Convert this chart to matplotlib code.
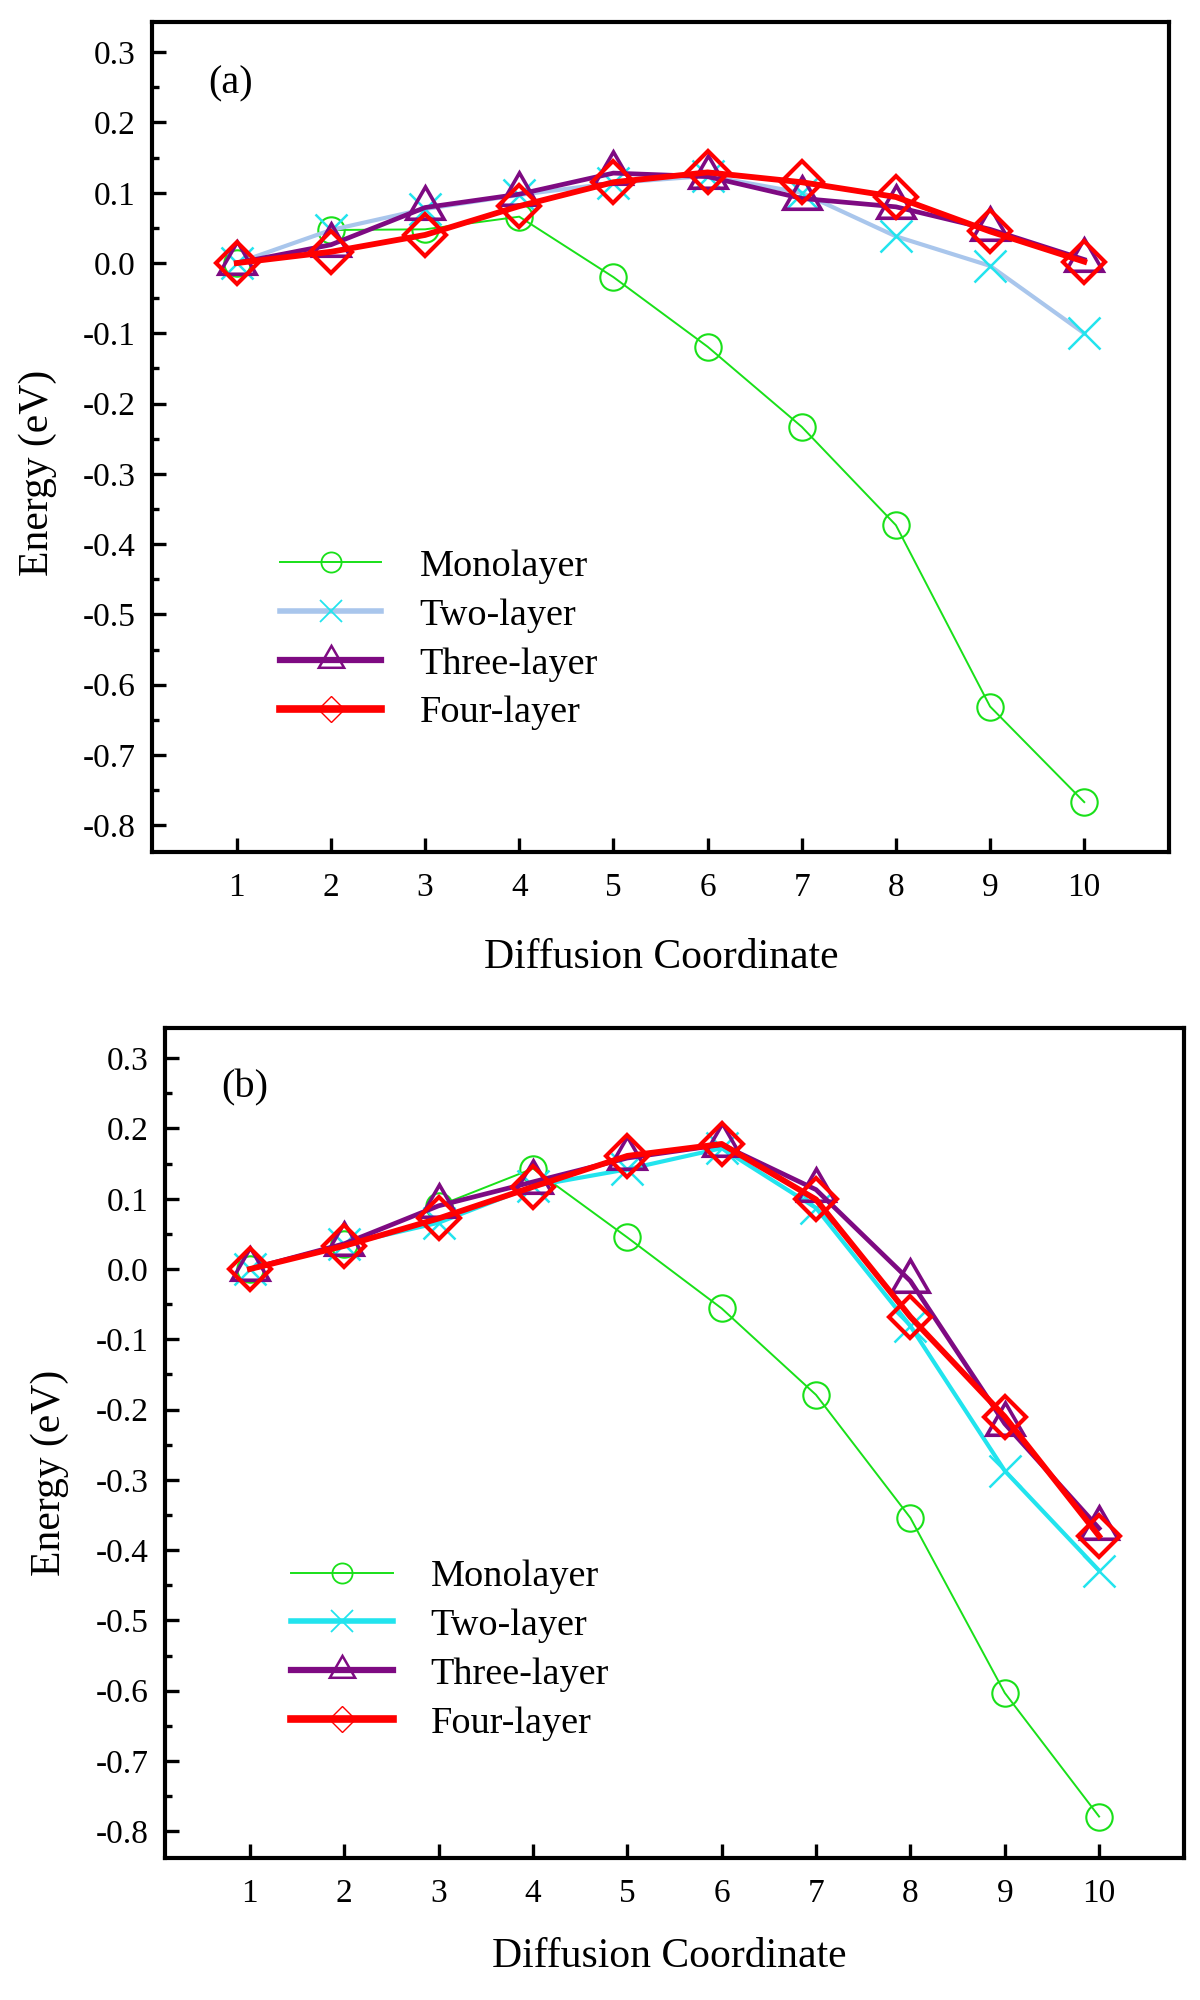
import matplotlib
matplotlib.use("Agg")
import matplotlib.pyplot as plt
from matplotlib.lines import Line2D
from matplotlib.ticker import MultipleLocator, FixedLocator, FuncFormatter

plt.rcParams['font.family'] = ['Liberation Serif', 'DejaVu Serif']
plt.rcParams['axes.unicode_minus'] = False

# ---------------- data ----------------
coords = [1, 2, 3, 4, 5, 6, 7, 8, 9, 10]
series_names = ["Monolayer", "Two-layer", "Three-layer", "Four-layer"]

mono_a = [0.0, 0.047, 0.048, 0.066, -0.020, -0.119, -0.233, -0.373, -0.631, -0.767]
two_a = [0.0, 0.047, 0.077, 0.097, 0.114, 0.124, 0.100, 0.038, -0.004, -0.100]
three_a = [0.0, 0.026, 0.079, 0.098, 0.128, 0.123, 0.092, 0.080, 0.048, 0.005]
four_a = [0.0, 0.016, 0.040, 0.081, 0.115, 0.129, 0.115, 0.094, 0.045, 0.002]

mono_b = [0.0, 0.036, 0.090, 0.143, 0.045, -0.056, -0.179, -0.354, -0.603, -0.779]
two_b = [0.0, 0.035, 0.066, 0.118, 0.142, 0.172, 0.087, -0.081, -0.287, -0.429]
three_b = [0.0, 0.036, 0.090, 0.124, 0.158, 0.177, 0.113, -0.017, -0.220, -0.369]
four_b = [0.0, 0.033, 0.072, 0.117, 0.161, 0.178, 0.099, -0.068, -0.210, -0.380]

y_major = [-0.8, -0.7, -0.6, -0.5, -0.4, -0.3, -0.2, -0.1, 0.0, 0.1, 0.2, 0.3]

# ---------------- styles ----------------
GREEN = '#19E019'
LBLUE = '#A9C6EC'
CYAN = '#22E4EE'
PURPLE = '#7E0A82'
RED = '#FF0000'

fig = plt.figure(figsize=(12, 20), dpi=100)
ax_a = fig.add_axes([152/1200, 1-852/2000, (1169-152)/1200, (852-22)/2000])
ax_b = fig.add_axes([165/1200, 1-1858/2000, (1184-165)/1200, (1858-1028)/2000])


def style(line_col2):
    return [
        dict(color=GREEN, lw=1.4, marker='o', ms=19, mew=1.5, mec=GREEN, mfc='none'),
        dict(color=line_col2, lw=3.0, marker='x', ms=23, mew=1.8, mec=CYAN, mfc='none'),
        dict(color=PURPLE, lw=3.4, marker=(3, 0, 0), ms=31, mew=2.6, mec=PURPLE, mfc='none'),
        dict(color=RED, lw=4.2, marker='D', ms=21, mew=3.0, mec=RED, mfc='none'),
    ]


def legend_handles(line_col2):
    return [
        Line2D([], [], color=GREEN, lw=1.4, marker='o', ms=14.5, mew=1.3, mec=GREEN, mfc='none'),
        Line2D([], [], color=line_col2, lw=4.0, marker='x', ms=16, mew=1.3, mec=CYAN, mfc='none'),
        Line2D([], [], color=PURPLE, lw=4.5, marker=(3, 0, 0), ms=21, mew=1.8, mec=PURPLE, mfc='none'),
        Line2D([], [], color=RED, lw=5.5, marker='D', ms=13, mew=1.0, mec=RED, mfc='none'),
    ]


def setup(ax, data, line_col2, tag, tagpos, ylab_pos, xlab_pos, leg_anchor):
    for vals, st in zip(data, style(line_col2)):
        ax.plot(coords, vals, **st)
    ax.set_xlim(0.1, 10.9)
    ax.set_ylim(-0.838, 0.343)
    ax.xaxis.set_major_locator(FixedLocator(coords))
    ax.yaxis.set_major_locator(FixedLocator(y_major))
    ax.yaxis.set_minor_locator(MultipleLocator(0.05))
    ax.yaxis.set_major_formatter(FuncFormatter(lambda v, p: ('%.1f' % v).replace('\u2212', '-')))
    ax.tick_params(axis='both', which='major', direction='in', length=10, width=2.4,
                   labelsize=24, top=False, right=False)
    ax.tick_params(axis='y', which='minor', direction='in', length=5, width=2.4, right=False)
    ax.tick_params(axis='x', which='major', pad=15)
    ax.tick_params(axis='y', which='major', pad=12)
    for sp in ax.spines.values():
        sp.set_linewidth(3.0)
    ax.set_ylabel('Energy (eV)', fontsize=30)
    ax.yaxis.label.set_va('center')
    ax.yaxis.set_label_coords(*ylab_pos)
    ax.set_xlabel('Diffusion Coordinate', fontsize=30)
    ax.xaxis.label.set_va('center')
    ax.xaxis.set_label_coords(*xlab_pos)
    ax.text(tagpos[0], tagpos[1], tag, transform=ax.transAxes, fontsize=29,
            ha='center', va='center')
    ax.legend(legend_handles(line_col2), series_names, loc='upper left',
              bbox_to_anchor=leg_anchor, frameon=False, fontsize=27.5,
              handlelength=2.65, handletextpad=1.0, labelspacing=0.37,
              borderpad=0, borderaxespad=0)


setup(ax_a, [mono_a, two_a, three_a, four_a], LBLUE, '(a)', (0.077, 0.925),
      (-0.112, 0.457), (0.5005, -0.128), (0.126, 0.365))
setup(ax_b, [mono_b, two_b, three_b, four_b], CYAN, '(b)', (0.0785, 0.928),
      (-0.113, 0.464), (0.4946, -0.119), (0.124, 0.360))

fig.savefig('out.png', dpi=100)
